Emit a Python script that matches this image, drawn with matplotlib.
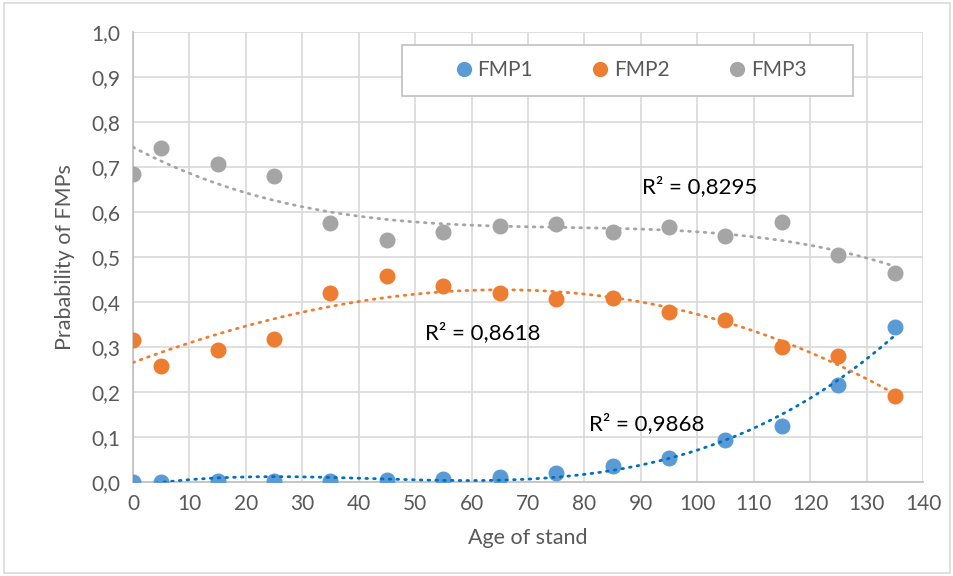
import numpy as np
import matplotlib.pyplot as plt

# data
age = [0, 5, 15, 25, 35, 45, 55, 65, 75, 85, 95, 105, 115, 125, 135]
fmp1 = [0.0, 0.0, 0.002, 0.003, 0.003, 0.004, 0.007, 0.012, 0.021, 0.036, 0.054, 0.093, 0.124, 0.216, 0.345]
fmp2 = [0.316, 0.257, 0.293, 0.318, 0.421, 0.458, 0.436, 0.419, 0.406, 0.408, 0.378, 0.36, 0.299, 0.279, 0.192]
fmp3 = [0.684, 0.743, 0.706, 0.68, 0.576, 0.538, 0.556, 0.569, 0.573, 0.556, 0.567, 0.547, 0.578, 0.504, 0.464]
r2_labels = ['R² = 0,9868', 'R² = 0,8618', 'R² = 0,8295']
r2_pos = [(80.8, 0.129), (51.7, 0.331), (90.2, 0.656)]

names = ['FMP1', 'FMP2', 'FMP3']
colors = ['#5B9BD5', '#ED7D31', '#A5A5A5']
trend_colors = ['#0070C0', '#ED7D31', '#A5A5A5']

plt.rcParams['font.family'] = ['Lato', 'DejaVu Sans']

fig = plt.figure(figsize=(9.54, 5.76), dpi=100)
ax = fig.add_axes([133/954, 1-482/576, 790/954, 450/576])

xs = np.linspace(0, 135, 300)
for i, ys in enumerate([fmp1, fmp2, fmp3]):
	ax.plot(age, ys, 'o', color=colors[i], markersize=10.5, label=names[i], zorder=3)
	coef = np.polyfit(age, ys, 3)
	ax.plot(xs, np.polyval(coef, xs), color=trend_colors[i], lw=2.0,
		linestyle=(0, (0.6, 2.2)), dash_capstyle='round', zorder=4)

for txt, (tx, ty) in zip(r2_labels, r2_pos):
	ax.text(tx, ty, txt, fontsize=16, color='black', ha='left', va='center')

ax.set_xlim(0, 140)
ax.set_ylim(0, 1.0)
ax.set_xticks(np.arange(0, 141, 10))
ax.set_yticks(np.arange(0, 1.01, 0.1))
ax.set_yticklabels([('%.1f' % v).replace('.', ',') for v in np.arange(0, 1.01, 0.1)])
ax.grid(True, color='#D9D9D9', lw=1.2)
ax.set_axisbelow(True)
for s in ['top', 'right']:
	ax.spines[s].set_visible(False)
for s in ['left', 'bottom']:
	ax.spines[s].set_color('#BFBFBF')
	ax.spines[s].set_linewidth(1.2)
ax.tick_params(length=0, labelsize=15, colors='#595959', pad=9)

ax.set_xlabel('Age of stand', fontsize=15.5, color='#595959', labelpad=10)
ax.set_ylabel('Prabability of FMPs', fontsize=15.5, color='#595959', labelpad=12)

# legend box drawn separately, entries centred inside it
box = [(402-133)/790, (482-96)/450, (853-402)/790, (96-45)/450]
ax.add_patch(plt.Rectangle((box[0], box[1]), box[2], box[3], transform=ax.transAxes,
	facecolor='white', edgecolor='#BFBFBF', lw=1.2, zorder=5))
leg = ax.legend(loc='center', bbox_to_anchor=(box[0] + box[2]/2 + 0.003, box[1] + box[3]/2),
	ncol=3, frameon=False, fontsize=15, handlelength=1.0, handletextpad=0.15,
	columnspacing=2.75, borderaxespad=0, markerscale=0.95)
leg.set_zorder(6)
for t in leg.get_texts():
	t.set_color('#595959')

fig.patches.append(plt.Rectangle((4/954, 3/576), 946/954, 570/576, transform=fig.transFigure,
	fill=False, edgecolor='#D9D9D9', lw=1.2))

fig.savefig('out.png', dpi=100)
